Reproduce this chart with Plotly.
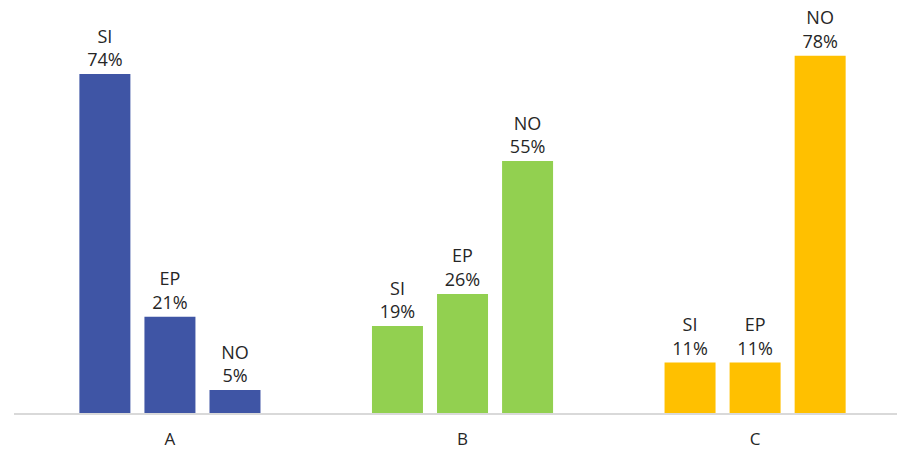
import plotly.graph_objects as go

categories = ["A", "B", "C"]
series = ["SI", "EP", "NO"]
values = {
    "SI": [74, 19, 11],
    "EP": [21, 26, 11],
    "NO": [5, 55, 78],
}
cat_colors = ["#3F55A5", "#92D050", "#FFC000"]

x = list(range(len(categories)))
fig = go.Figure()
for s in series:
    fig.add_trace(go.Bar(
        x=x, y=values[s], name=s,
        marker=dict(color=cat_colors, line=dict(width=0)),
        text=[f"{s}<br>{v}%" for v in values[s]],
        textposition="outside",
        textfont=dict(family="Open Sans", size=18, color="#262626"),
        cliponaxis=False,
    ))

fig.update_layout(
    width=897, height=458,
    margin=dict(l=14, r=0, t=8, b=45),
    barmode="group", bargap=0.333, bargroupgap=0.216,
    plot_bgcolor="white", paper_bgcolor="white",
    showlegend=False,
    xaxis=dict(range=[-0.533, 2.485], tickvals=x, ticktext=categories,
               showline=True, linecolor="#D9D9D9", linewidth=1.5,
               showgrid=False, zeroline=False,
               ticks="outside", ticklen=10, tickcolor="rgba(0,0,0,0)",
               tickfont=dict(family="Open Sans", size=17, color="#262626")),
    yaxis=dict(range=[0, 88.4], visible=False, showgrid=False, zeroline=False),
    uniformtext=dict(mode=False),
)
fig.write_html("out.html",
               config={"displayModeBar": False},
               post_script="document.body.style.margin='0px';document.body.style.overflow='hidden';")
